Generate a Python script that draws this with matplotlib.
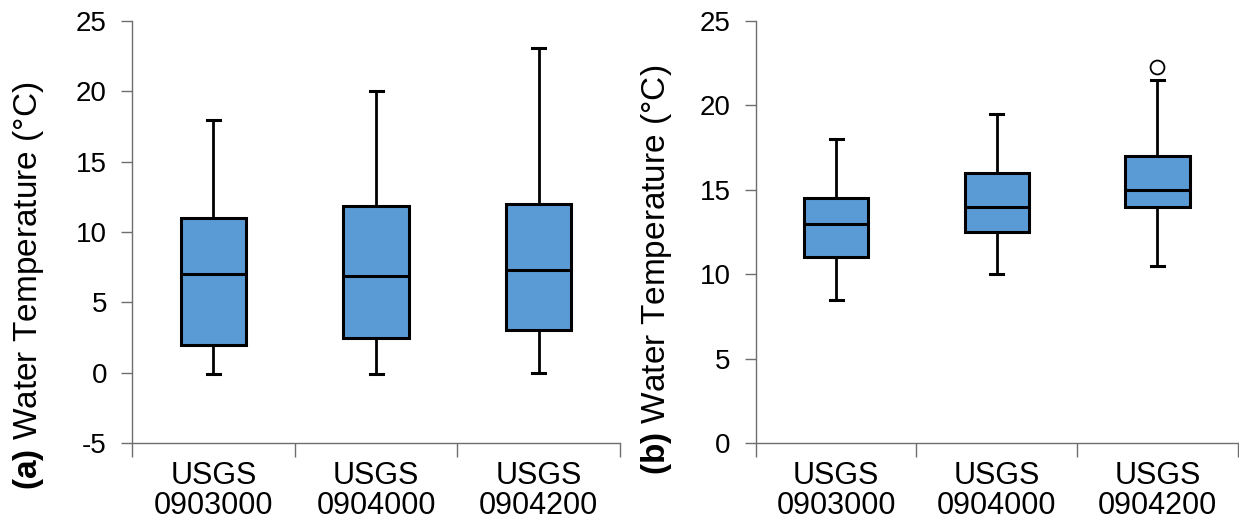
import matplotlib
matplotlib.use('Agg')
import matplotlib.pyplot as plt

plt.rcParams['font.family'] = ['Liberation Sans', 'DejaVu Sans']
plt.rcParams['mathtext.fontset'] = 'custom'
plt.rcParams['mathtext.bf'] = 'Liberation Sans:bold'
plt.rcParams['mathtext.rm'] = 'Liberation Sans'
plt.rcParams['axes.unicode_minus'] = False

estaciones = ["USGS\n0903000", "USGS\n0904000", "USGS\n0904200"]

# panel (a)
a_min = [-0.1, -0.1, 0.0]
a_q1 = [2.0, 2.45, 3.0]
a_med = [7.0, 6.9, 7.3]
a_q3 = [11.0, 11.85, 12.0]
a_max = [18.0, 20.0, 23.1]
a_out = [[], [], []]

# panel (b)
b_min = [8.5, 10.0, 10.5]
b_q1 = [11.0, 12.5, 14.0]
b_med = [13.0, 14.0, 15.0]
b_q3 = [14.5, 16.0, 17.0]
b_max = [18.0, 19.5, 21.5]
b_out = [[], [], [22.3]]

azul = "#5B9BD5"
gris = "#6e6e6e"


def stats(mn, q1, med, q3, mx, out):
    res = []
    for i in range(len(mn)):
        res.append({"whislo": mn[i], "q1": q1[i], "med": med[i], "q3": q3[i],
                    "whishi": mx[i], "fliers": out[i]})
    return res


def panel(ax, st, ylim, yticks):
    ax.bxp(st, positions=[1, 2, 3], widths=0.4, patch_artist=True,
           showfliers=True,
           boxprops=dict(facecolor=azul, edgecolor="black", linewidth=2.2),
           medianprops=dict(color="black", linewidth=2.2),
           whiskerprops=dict(color="black", linewidth=2),
           capprops=dict(color="black", linewidth=2.2),
           capwidths=0.08,
           flierprops=dict(marker="o", markerfacecolor="white",
                           markeredgecolor="black", markersize=10,
                           markeredgewidth=1.3))
    ax.set_xlim(0.5, 3.5)
    ax.set_ylim(*ylim)
    ax.set_yticks(yticks)
    ax.set_xticks([1, 2, 3])
    ax.set_xticklabels(estaciones, fontsize=22, linespacing=1.0)
    ax.set_xticks([0.5, 1.5, 2.5, 3.5], minor=True)
    ax.tick_params(axis="x", which="major", length=0, pad=13)
    ax.tick_params(axis="x", which="minor", length=10, width=1, color=gris,
                   direction="out")
    ax.tick_params(axis="y", length=8, width=1, color=gris, labelsize=20, pad=10)
    for s in ["top", "right"]:
        ax.spines[s].set_visible(False)
    for s in ["left", "bottom"]:
        ax.spines[s].set_color(gris)
        ax.spines[s].set_linewidth(1)


fig = plt.figure(figsize=(12.39, 5.27), dpi=100)
ax1 = fig.add_axes([0.1065, 0.1594, 0.394, 0.8006])
ax2 = fig.add_axes([0.610, 0.1594, 0.389, 0.8006])

panel(ax1, stats(a_min, a_q1, a_med, a_q3, a_max, a_out), (-5, 25), range(-5, 26, 5))
panel(ax2, stats(b_min, b_q1, b_med, b_q3, b_max, b_out), (0, 25), range(0, 26, 5))

fig.text(29 / 1239, 1 - 286 / 527, r"$\mathbf{(a)}$ Water Temperature (°C)",
         rotation=90, ha="center", va="center", fontsize=24)
fig.text(657 / 1239, 1 - 270 / 527, r"$\mathbf{(b)}$ Water Temperature (°C)",
         rotation=90, ha="center", va="center", fontsize=24)

plt.savefig("out.png", dpi=100)
plt.close()
